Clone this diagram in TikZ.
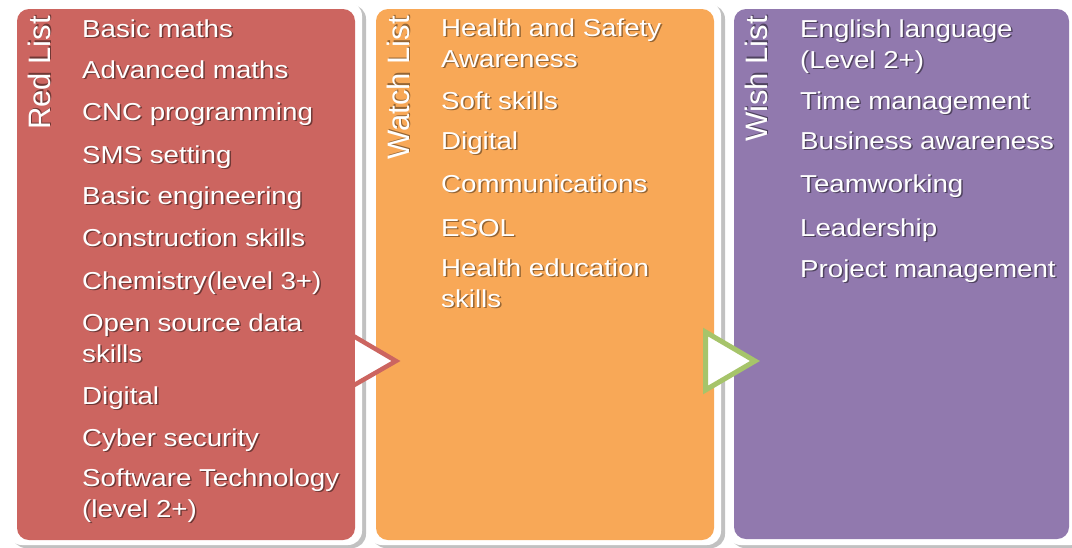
\documentclass[tikz,border=0pt]{standalone}
\usepackage{fontspec}
\setmainfont{Liberation Sans}
\newfontfamily\itemfont[FakeStretch=1.13]{Liberation Sans}
\newfontfamily\labelfont{Liberation Sans}
\usetikzlibrary{shadows}
\definecolor{redp}{HTML}{CC6560}
\definecolor{orangep}{HTML}{F8A857}
\definecolor{purplep}{HTML}{9179AE}
\definecolor{greena}{HTML}{A6C46A}
\colorlet{redsh}{redp!55!black}
\colorlet{orangesh}{orangep!60!black}
\colorlet{purplesh}{purplep!55!black}
\newcommand\shd[2]{\leavevmode\rlap{\kern1.5pt\raisebox{-1.5pt}{\textcolor{#1}{#2}}}#2}
\tikzset{
  outerbox/.style={fill=white, rounded corners=14pt,
    drop shadow={shadow xshift=4pt, shadow yshift=-3pt, fill=black!30, opacity=0.8}},
  innerbox/.style={rounded corners=12pt},
  item/.style={anchor=base west, inner sep=0pt, text=white, align=left,
    font=\itemfont\fontsize{24.5}{31}\selectfont},
  listlabel/.style={anchor=base west, inner sep=0pt, text=white, rotate=90,
    font=\labelfont\fontsize{31}{36}\selectfont},
  arrowtri/.style={fill=white, line width=4.5pt}
}
\begin{document}
\begin{tikzpicture}[x=1pt,y=-1pt]
\useasboundingbox (0,0) rectangle (1072,547);
\clip (0,0) rectangle (1072,547);
% outer white panels
\path[outerbox] (8,2) rectangle (362,545);
\path[outerbox] (368,2) rectangle (721,545);
\path[outerbox] (727,2) rectangle (1085,545);
% inner coloured panels
\fill[innerbox, redp] (17,9) rectangle (355,540);
\fill[innerbox, orangep] (376,9) rectangle (714,540);
\fill[innerbox, purplep] (734,9) rectangle (1069,539);
% labels
\node[listlabel] (redlabel) at (50,130) {\shd{redsh}{Red List}};
\node[listlabel] (watchlabel) at (409,160) {\shd{orangesh}{Watch List}};
\node[listlabel] (wishlabel) at (767,142) {\shd{purplesh}{Wish List}};
% red list
\node[item] (r1) at (82,37) {\shd{redsh}{Basic maths}};
\node[item] (r2) at (82,78) {\shd{redsh}{Advanced maths}};
\node[item] (r3) at (82,120) {\shd{redsh}{CNC programming}};
\node[item] (r4) at (82,163) {\shd{redsh}{SMS setting}};
\node[item] (r5) at (82,204) {\shd{redsh}{Basic engineering}};
\node[item] (r6) at (82,246) {\shd{redsh}{Construction skills}};
\node[item] (r7) at (82,289) {\shd{redsh}{Chemistry(level 3+)}};
\node[item] (r8) at (82,362) {\shd{redsh}{Open source data}\\\shd{redsh}{skills}};
\node[item] (r9) at (82,404) {\shd{redsh}{Digital}};
\node[item] (r10) at (82,446) {\shd{redsh}{Cyber security}};
\node[item] (r11) at (82,517) {\shd{redsh}{Software Technology}\\\shd{redsh}{(level 2+)}};
% watch list
\node[item] (o1) at (441,67) {\shd{orangesh}{Health and Safety}\\\shd{orangesh}{Awareness}};
\node[item] (o2) at (441,109) {\shd{orangesh}{Soft skills}};
\node[item] (o3) at (441,149) {\shd{orangesh}{Digital}};
\node[item] (o4) at (441,192) {\shd{orangesh}{Communications}};
\node[item] (o5) at (441,236) {\shd{orangesh}{ESOL}};
\node[item] (o6) at (441,307) {\shd{orangesh}{Health education}\\\shd{orangesh}{skills}};
% wish list
\node[item] (p1) at (800,68) {\shd{purplesh}{English language}\\\shd{purplesh}{(Level 2+)}};
\node[item] (p2) at (800,109) {\shd{purplesh}{Time management}};
\node[item] (p3) at (800,149) {\shd{purplesh}{Business awareness}};
\node[item] (p4) at (800,192) {\shd{purplesh}{Teamworking}};
\node[item] (p5) at (800,236) {\shd{purplesh}{Leadership}};
\node[item] (p6) at (800,277) {\shd{purplesh}{Project management}};
% arrows
\coordinate (ra1) at (352.5,335.5);
\coordinate (ra2) at (396,361);
\coordinate (ra3) at (352.5,386);
\draw[arrowtri, draw=redp] (ra1) -- (ra2) -- (ra3) -- cycle;
\coordinate (ga1) at (705.5,332);
\coordinate (ga2) at (755,361);
\coordinate (ga3) at (705.5,390);
\draw[arrowtri, draw=greena, line width=5pt] (ga1) -- (ga2) -- (ga3) -- cycle;
\end{tikzpicture}
\end{document}
